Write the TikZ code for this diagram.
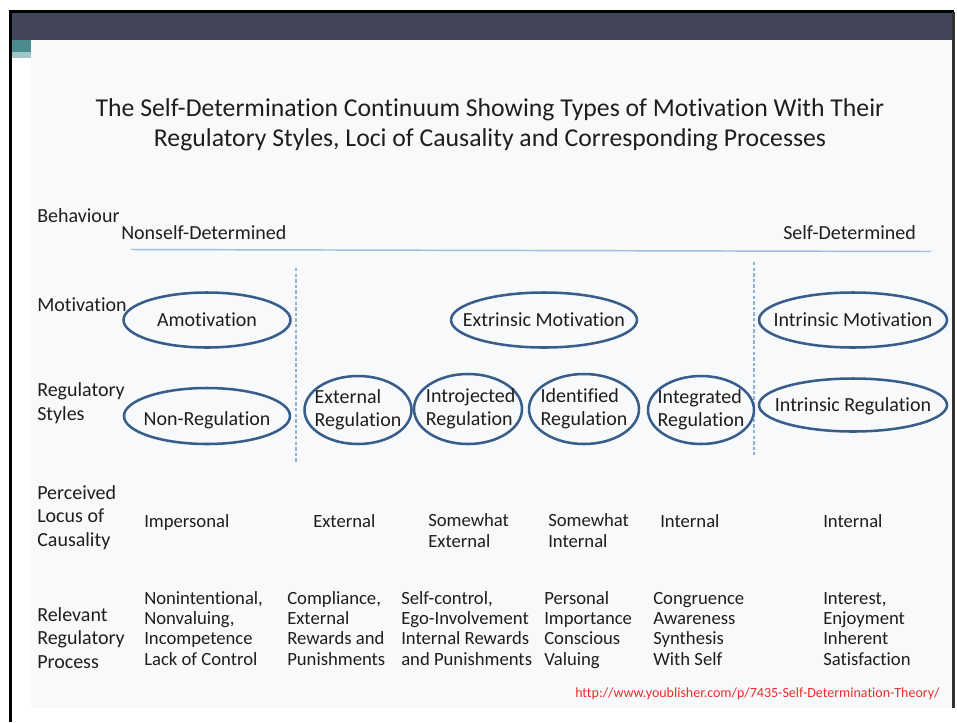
\documentclass[tikz,border=0pt]{standalone}
\usepackage{fontspec}
\setmainfont{Carlito}[Ligatures=NoCommon]
\usepackage{xcolor}
\usetikzlibrary{shapes.geometric}
\definecolor{ink}{HTML}{1E1E1E}
\definecolor{slateband}{HTML}{43455A}
\definecolor{tealbar}{HTML}{4B8B90}
\definecolor{tealpale}{HTML}{A0C6C6}
\definecolor{panel}{HTML}{F7F9FB}
\definecolor{ovalbd}{HTML}{385D8A}
\definecolor{axiscol}{HTML}{A3BCDB}
\definecolor{divcol}{HTML}{8FB1DA}
\definecolor{urlred}{HTML}{EE2C2C}
\tikzset{
  oval/.style 2 args={draw=ovalbd,line width=1.9pt,ellipse,inner sep=0pt,
                      minimum width=#1*0.75pt,minimum height=#2*0.75pt},
  ovaltext/.style={font=\fontsize{15}{17.6}\selectfont,ink,align=left,
                   inner sep=0pt},
  ovalword/.style={ovaltext,text height=9.7pt,text depth=0pt},
  rowhead/.style={font=\fontsize{15}{17.6}\selectfont,ink,align=left,
                  inner sep=0pt,anchor=base west},
  cell/.style={font=\fontsize{14}{15.2}\selectfont,ink,align=left,
               inner sep=0pt,anchor=base west},
  divider/.style={divcol,line width=1pt,dash pattern=on 2.6pt off 1.6pt},
}
\begin{document}
\begin{tikzpicture}[x=0.75pt,y=-0.75pt]
  \useasboundingbox (0,0) rectangle (957,722);
  % Slide frame
  \fill[white] (0,0) rectangle (957,722);
  \fill[slateband] (12,12) rectangle (952,40);
  \fill[tealbar] (12,40) rectangle (31,52);
  \fill[tealpale] (12,52) rectangle (31,58);
  \fill[panel] (31,40) rectangle (952,708);
  \fill[black] (9,10) rectangle (954,12.5);
  \fill[black] (9,10) rectangle (12,722);
  \fill[black!80] (952,12) rectangle (954.5,708);

  % Title (base = last line)
  \node[font=\fontsize{19.3}{22.5}\selectfont,ink,align=center,anchor=base]
    (title) at (490,146)
    {The Self-Determination Continuum Showing Types of Motivation With Their\\
     Regulatory Styles, Loci of Causality and Corresponding Processes};

  % Behaviour axis
  \node[rowhead] (behav) at (37,222) {Behaviour};
  \node[rowhead] (nonsd) at (121,239) {Nonself-Determined};
  \node[rowhead] (selfd) at (783,239) {Self-Determined};
  \coordinate (axisL) at (131,249.5);
  \coordinate (axisR) at (931,251.5);
  \draw[axiscol,line width=1.1pt] (axisL) -- (axisR);

  % Dashed dividers
  \draw[divider] (296,268) -- (296,462);
  \draw[divider] (754,262) -- (754,455);

  % Motivation row
  \node[rowhead] (motiv) at (37,311) {Motivation};
  \node[oval={167}{55}] (amot) at (207,320) {};
  \node[ovalword] at (amot) {Amotivation};
  \node[oval={186}{55}] (extmot) at (544,320) {};
  \node[ovalword] at (extmot) {Extrinsic Motivation};
  \node[oval={188}{55}] (intmot) at (853,320) {};
  \node[ovalword] at (intmot) {Intrinsic Motivation};

  % Regulatory styles row
  \node[rowhead] (regsty) at (37,420) {Regulatory\\Styles};
  \node[oval={166}{56}] (nonreg) at (207,416) {};
  \node[ovalword,yshift=-2pt] at (nonreg) {Non-Regulation};
  \node[oval={107}{68}] (extreg) at (358,410) {};
  \node[ovaltext] at (extreg) {External\\Regulation};
  \node[oval={108}{70}] (introreg) at (468,409) {};
  \node[ovaltext,xshift=2pt] at (introreg) {Introjected\\Regulation};
  \node[oval={110}{70}] (identreg) at (584,409) {};
  \node[ovaltext] at (identreg) {Identified\\Regulation};
  \node[oval={106}{68}] (integreg) at (701,410) {};
  \node[ovaltext] at (integreg) {Integrated\\Regulation};
  \node[oval={188}{53}] (intreg) at (853,405) {};
  \node[ovalword] at (intreg) {Intrinsic Regulation};

  % Perceived locus of causality
  \node[rowhead] (locus) at (37,546) {Perceived\\Locus of\\Causality};
  \node[cell] (locA) at (144,527) {Impersonal};
  \node[cell] (locB) at (313,527) {External};
  \node[cell] (locC) at (428,547) {Somewhat\\External};
  \node[cell] (locD) at (548,547) {Somewhat\\Internal};
  \node[cell] (locE) at (660,527) {Internal};
  \node[cell] (locF) at (823,527) {Internal};

  % Relevant regulatory process
  \node[rowhead] (relproc) at (37,668) {Relevant\\Regulatory\\Process};
  \node[cell] (procA) at (144,665)
    {Nonintentional,\\Nonvaluing,\\Incompetence\\Lack of Control};
  \node[cell] (procB) at (287,665)
    {Compliance,\\External\\Rewards and\\Punishments};
  \node[cell] (procC) at (401,665)
    {Self-control,\\Ego-Involvement\\Internal Rewards\\and Punishments};
  \node[cell] (procD) at (544,665)
    {Personal\\Importance\\Conscious\\Valuing};
  \node[cell] (procE) at (653,665)
    {Congruence\\Awareness\\Synthesis\\With Self};
  \node[cell] (procF) at (823,665)
    {Interest,\\Enjoyment\\Inherent\\Satisfaction};

  % Source
  \node[font=\fontsize{10.5}{12}\selectfont,urlred,anchor=base west,inner sep=0pt]
    (src) at (575,697)
    {http://www.youblisher.com/p/7435-Self-Determination-Theory/};
\end{tikzpicture}
\end{document}
